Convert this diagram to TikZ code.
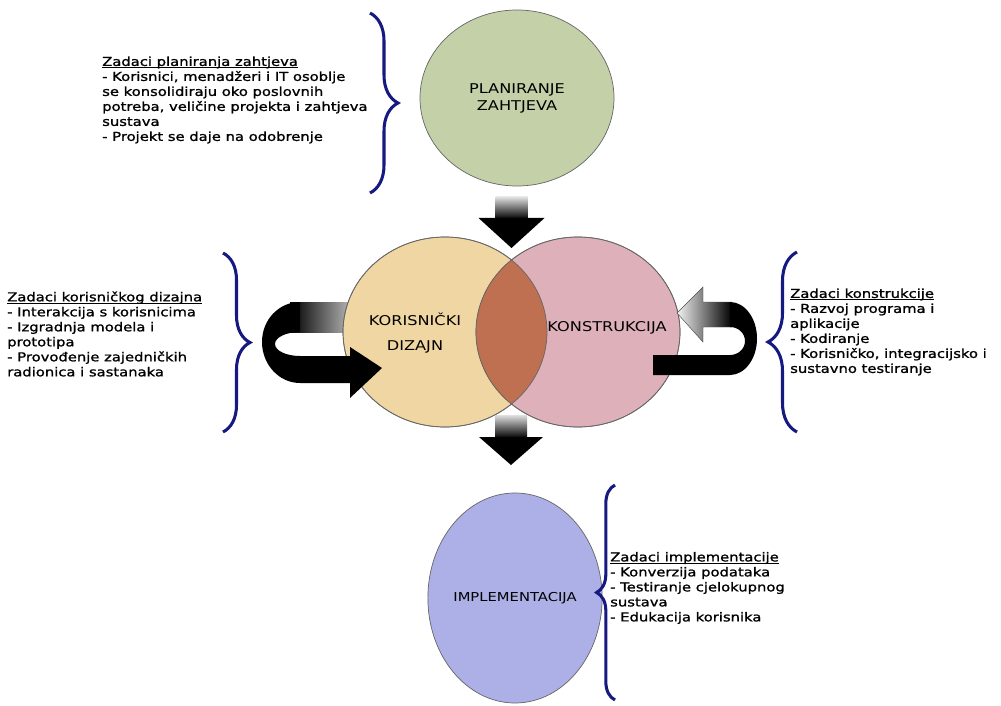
\documentclass[tikz,border=0pt]{standalone}
\usepackage{fontspec}
\setmainfont{DejaVu Sans}[FakeStretch=1.2]
\newfontfamily\zadacifont{DejaVu Sans}[FakeStretch=1.2,FakeBold=1.2]
\usetikzlibrary{shapes.geometric,decorations.pathreplacing}

\definecolor{planfill}{RGB}{195,208,168}
\definecolor{dizfill}{RGB}{240,214,162}
\definecolor{konfill}{RGB}{222,176,186}
\definecolor{presjek}{RGB}{190,112,80}
\definecolor{implfill}{RGB}{172,176,230}
\definecolor{zagrada}{RGB}{22,26,128}

\newsavebox{\podbox}
\newcommand{\podcrtaj}[1]{\sbox{\podbox}{#1}\rlap{\rule[-1.6pt]{\wd\podbox}{0.5pt}}\usebox{\podbox}}

\begin{document}
\begin{tikzpicture}[
  x=0.03cm,y=-0.03cm,
  phase/.style={ellipse,draw=black!60,line width=0.6pt,inner sep=0pt,align=center,font=\fontsize{11.5}{14.5}\selectfont},
  phasename/.style={align=center,inner sep=0pt,font=\fontsize{11.5}{21}\selectfont},
  tasks/.style={anchor=west,align=left,inner sep=0pt,font=\zadacifont\fontsize{10.5}{12.8}\selectfont},
  curly/.style={draw=zagrada,line width=2.6pt,decorate,decoration={brace,amplitude=#1}},
  curly/.default=0.84cm
]
  \useasboundingbox[fill=white] (0,0) rectangle (1001,706);

  \shade[left color=black,right color=gray!35] (290,302) rectangle (360,332);

  \node[phase,fill=planfill,minimum width=5.82cm,minimum height=5.28cm] (plan) at (517,98) {PLANIRANJE\\ZAHTJEVA};
  \node[phase,fill=dizfill,minimum width=6.12cm,minimum height=5.7cm] (diz) at (445,332) {};
  \node[phase,fill=konfill,minimum width=6.12cm,minimum height=5.7cm] (kon) at (578,332) {};
  \begin{scope}
    \clip (diz.center) ellipse [x radius=3.06cm,y radius=2.85cm];
    \fill[presjek] (kon.center) ellipse [x radius=3.06cm,y radius=2.85cm];
  \end{scope}
  \draw[black!60,line width=0.6pt] (diz.center) ellipse [x radius=3.06cm,y radius=2.85cm]
    (kon.center) ellipse [x radius=3.06cm,y radius=2.85cm];
  \node[phasename] (diztxt) at (415,333) {KORISNIČKI\\DIZAJN};
  \node[phasename] (kontxt) at (607,328) {KONSTRUKCIJA};
  \node[phase,fill=implfill,minimum width=4.5cm,minimum height=6.3cm,font=\fontsize{10.5}{13}\selectfont] (impl) at (515,598) {IMPLEMENTACIJA};

  \coordinate (a1) at (511.5,197);
  \coordinate (a1tip) at (511.5,248);
  \coordinate (a2) at (511,415);
  \coordinate (a2tip) at (511,465);
  \shade[top color=gray!25,bottom color=black] (a1) ++(-16,0) rectangle ++(32,22);
  \fill (a1tip) ++(-33,-30) -- ++(66,0) -- (a1tip) -- cycle;
  \shade[top color=gray!25,bottom color=black] (a2) ++(-16,0) rectangle ++(32,23);
  \fill (a2tip) ++(-32,-28) -- ++(64,0) -- (a2tip) -- cycle;

  \fill (300,302) .. controls (279,302) and (262,319.6) .. (262,342)
    .. controls (262,364.4) and (279,383) .. (300,383)
    -- (350,383) -- (350,398) -- (382,368) -- (350,347) -- (350,356) -- (300,356)
    .. controls (286,356) and (275,350.6) .. (275,344)
    .. controls (275,337.4) and (286,332) .. (300,332) -- cycle;

  \shadedraw[left color=gray!10,right color=black,draw=black!70,line width=0.4pt]
    (677,313) -- (703,287) -- (703,302) -- (732,302) -- (732,327) -- (703,327) -- (703,342) -- cycle;
  \fill (730,302) .. controls (744.9,302) and (757,318.3) .. (757,338.5)
    .. controls (757,358.7) and (744.9,375) .. (730,375)
    -- (653,375) -- (653,355) -- (730,355)
    .. controls (738.3,355) and (745,348.7) .. (745,341)
    .. controls (745,333.3) and (738.3,327) .. (730,327) -- cycle;

  \coordinate (z1a) at (370,13);
  \coordinate (z1b) at (370,193);
  \coordinate (z2a) at (223,253);
  \coordinate (z2b) at (223,432);
  \coordinate (z3a) at (797,432);
  \coordinate (z3b) at (797,252);
  \coordinate (z4a) at (615,700);
  \coordinate (z4b) at (615,485);
  \draw[curly] (z1a) -- (z1b);
  \draw[curly=0.81cm] (z2a) -- (z2b);
  \draw[curly=0.87cm] (z3a) -- (z3b);
  \draw[curly=0.55cm] (z4a) -- (z4b);

  \node[tasks] (tplan) at (102,100) {\podcrtaj{Zadaci planiranja zahtjeva}\\
    - Korisnici, menadžeri i IT osoblje\\
    se konsolidiraju oko poslovnih\\
    potreba, veličine projekta i zahtjeva\\
    sustava\\
    - Projekt se daje na odobrenje};
  \node[tasks] (tdiz) at (7,334) {\podcrtaj{Zadaci korisničkog dizajna}\\
    - Interakcija s korisnicima\\
    - Izgradnja modela i\\
    prototipa\\
    - Provođenje zajedničkih\\
    radionica i sastanaka};
  \node[tasks] (tkon) at (790,332) {\podcrtaj{Zadaci konstrukcije}\\
    - Razvoj programa i\\
    aplikacije\\
    - Kodiranje\\
    - Korisničko, integracijsko i\\
    sustavno testiranje};
  \node[tasks] (timpl) at (610,588) {\podcrtaj{Zadaci implementacije}\\
    - Konverzija podataka\\
    - Testiranje cjelokupnog\\
    sustava\\
    - Edukacija korisnika};
\end{tikzpicture}
\end{document}
